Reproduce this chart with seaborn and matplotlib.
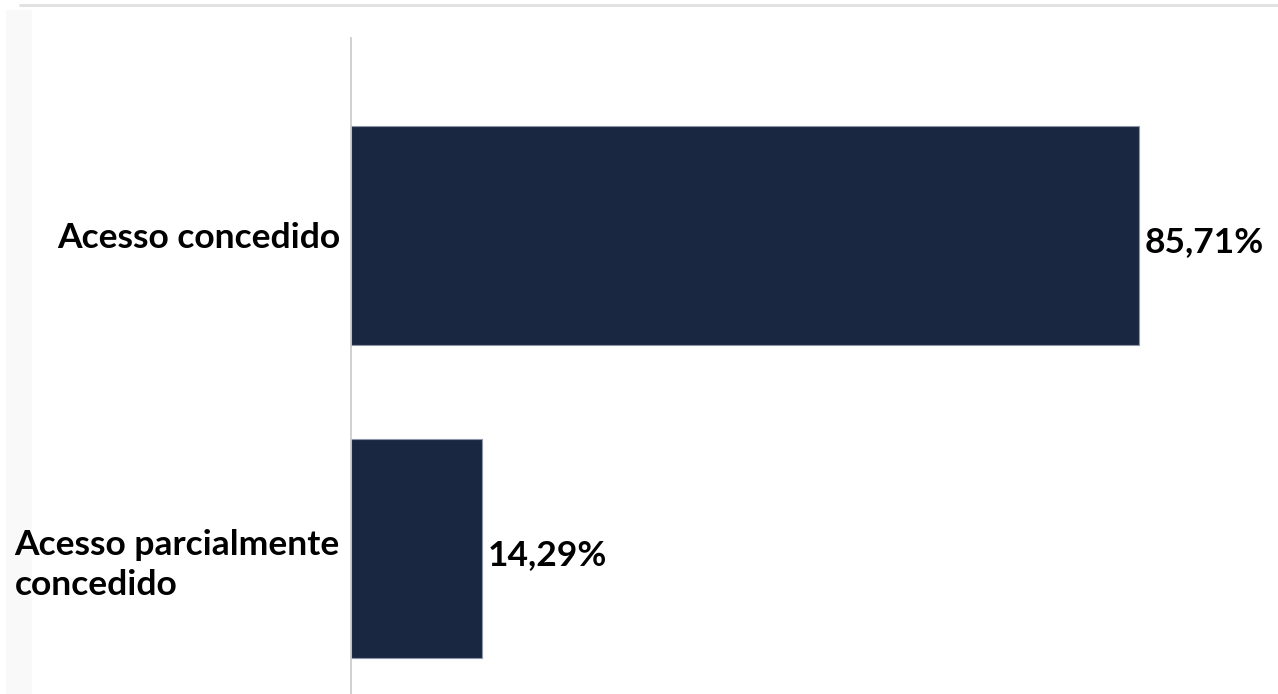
import matplotlib
matplotlib.use("Agg")
import matplotlib.pyplot as plt
import seaborn as sns
import pandas as pd
from matplotlib.patches import Rectangle
from matplotlib.lines import Line2D
from matplotlib.transforms import ScaledTranslation

categories = ["Acesso concedido", "Acesso parcialmente\nconcedido"]
values = [85.71, 14.29]
value_labels = ["85,71%", "14,29%"]

sns.set_theme(style="white")
plt.rcParams["font.family"] = ["Lato", "DejaVu Sans"]

df = pd.DataFrame({"categoria": categories, "valor": values})

fig = plt.figure(figsize=(12.78, 6.94), dpi=100)
W, H = 1278, 694

# faint background strip and top rule
fig.patches.append(Rectangle((6 / W, 0), 26 / W, 1 - 10 / H, transform=fig.transFigure,
                             facecolor="#f9f9f9", edgecolor="none", zorder=-5))
fig.lines.append(Line2D([20 / W, 1], [1 - 5 / H, 1 - 5 / H], transform=fig.transFigure,
                        color="#e2e2e2", linewidth=2.2, zorder=-4))

ax = fig.add_axes([351 / W, 0, (W - 351) / W, (H - 38) / H])
ax.set_facecolor("none")

sns.barplot(data=df, x="valor", y="categoria", orient="h", color="#1a2740",
            saturation=1, width=0.7, edgecolor="#8c96a6", linewidth=0.8, ax=ax)

ax.set_xlim(0, 100.8)
ax.set_ylim(1.465, -0.631)
ax.set_xlabel("")
ax.set_ylabel("")
ax.set_xticks([])
for s in ["top", "right", "bottom"]:
    ax.spines[s].set_visible(False)
ax.spines["left"].set_color("#c8c8c8")
ax.spines["left"].set_linewidth(1.2)

ax.tick_params(axis="y", length=0, pad=8)
for lbl in ax.get_yticklabels():
    lbl.set_fontsize(25.5)
    lbl.set_fontweight("bold")
    lbl.set_color("black")
    lbl.set_multialignment("left")
    lbl.set_linespacing(1.3)
    if "\n" in lbl.get_text():
        # two-line label sits a little below the bar centre
        lbl.set_transform(lbl.get_transform()
                          + ScaledTranslation(0, -0.10, fig.dpi_scale_trans))

for i, (v, t) in enumerate(zip(values, value_labels)):
    ax.text(v + 0.6, i + 0.02, t, va="center", ha="left", fontsize=25.5,
            fontweight="bold", color="black")

fig.savefig("out.png", dpi=100, facecolor="white")
